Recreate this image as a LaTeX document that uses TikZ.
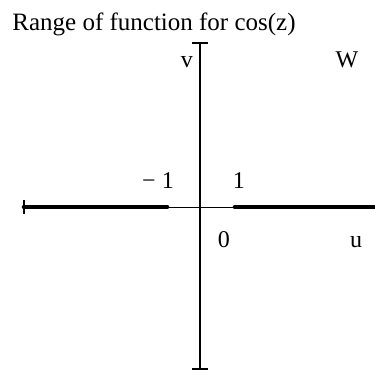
\documentclass[tikz,border=0pt]{standalone}
\usepackage{fontspec}
\setmainfont{Liberation Serif}
\usepackage{tikz}
\usetikzlibrary{arrows.meta, calc}
\tikzset{
	axisline/.style ={line width=0.9pt},
	thinline/.style ={line width=0.5pt},
	rangeline/.style={line width=2.3pt, line cap=round},
	lbl/.style      ={anchor=base, inner sep=0pt, font=\fontsize{12}{14}\selectfont},
}
\begin{document}
\begin{tikzpicture}[x=0.5pt, y=0.5pt]
	\useasboundingbox (-200,-164) rectangle (175,207);
	% axes
	\coordinate (vtop) at (0,165);
	\coordinate (vbot) at (0,-163);
	\coordinate (uleft) at (-176,0);
	\coordinate (uright) at (175,0);
	\coordinate (mone) at (-33,0);
	\coordinate (pone) at (35,0);
	\draw[axisline, {Bar[width=8pt]}-{Bar[width=8pt]}] (vbot) -- (vtop);
	\draw[thinline] (mone) -- (pone);
	% range of cos(z)
	\draw[rangeline] (uleft) -- (mone);
	\draw[rangeline] (pone) -- (uright);
	\draw[axisline] ($(uleft)+(0,-7)$) -- ($(uleft)+(0,7)$);
	% labels
	\node[lbl, anchor=base west, font=\fontsize{12.5}{15}\selectfont] (title) at (-188,176.5) {Range of function for cos(z)};
	\node[lbl] (vlab) at (-13,140) {v};
	\node[lbl] (wlab) at (147,140) {W};
	\node[lbl] (mlab) at (-42,19) {− 1};
	\node[lbl] (plab) at (39,19) {1};
	\node[lbl] (zlab) at (24,-40) {0};
	\node[lbl] (ulab) at (156,-40) {u};
\end{tikzpicture}
\end{document}
